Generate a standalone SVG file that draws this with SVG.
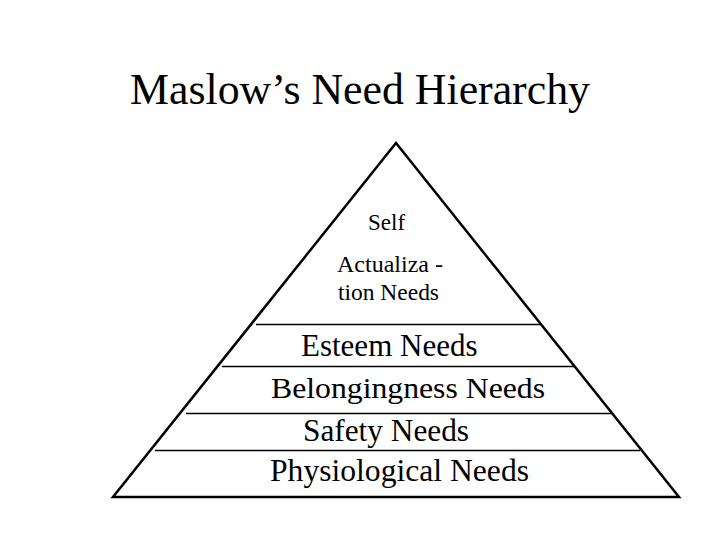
<svg xmlns="http://www.w3.org/2000/svg" width="720" height="540" viewBox="0 0 720 540">
<style>
text{font-family:'Liberation Serif','Times New Roman',serif;fill:#000}
.edge{fill:none;stroke:#000;stroke-width:2.5;stroke-linejoin:miter}
.sep{stroke:#000;stroke-width:1.5}
</style>
<rect width="720" height="540" fill="#fff"/>
<text style="font-family:'Liberation Serif',serif;font-size:44px" x="130" y="104" textLength="460" lengthAdjust="spacingAndGlyphs">Maslow’s Need Hierarchy</text>
<g id="pyramid">
<polygon class="edge" points="396,143 679,497 113,497"/>
</g>
<g id="connectors">
<line class="sep" x1="256" y1="324.5" x2="541" y2="324.5"/>
<line class="sep" x1="222" y1="366.5" x2="575" y2="366.5"/>
<line class="sep" x1="186" y1="413.5" x2="611" y2="413.5"/>
<line class="sep" x1="155" y1="450.5" x2="640" y2="450.5"/>
</g>
<g id="self-actualization">
<text style="font-family:'Liberation Serif',serif;font-size:23px" x="368" y="230">Self</text>
<text style="font-family:'Liberation Serif',serif;font-size:23px" x="337" y="272" textLength="106" lengthAdjust="spacingAndGlyphs">Actualiza -</text>
<text style="font-family:'Liberation Serif',serif;font-size:23px" x="338" y="300" textLength="101" lengthAdjust="spacingAndGlyphs">tion Needs</text>
</g>
<g id="esteem">
<text style="font-family:'Liberation Serif',serif;font-size:31px" x="301" y="356">Esteem Needs</text>
</g>
<g id="belongingness">
<text style="font-family:'Liberation Serif',serif;font-size:30px" x="271" y="398" textLength="274" lengthAdjust="spacingAndGlyphs">Belongingness Needs</text>
</g>
<g id="safety">
<text style="font-family:'Liberation Serif',serif;font-size:31px" x="303" y="441" textLength="166" lengthAdjust="spacingAndGlyphs">Safety Needs</text>
</g>
<g id="physiological">
<text style="font-family:'Liberation Serif',serif;font-size:31px" x="270" y="481" textLength="259" lengthAdjust="spacingAndGlyphs">Physiological Needs</text>
</g>
</svg>
